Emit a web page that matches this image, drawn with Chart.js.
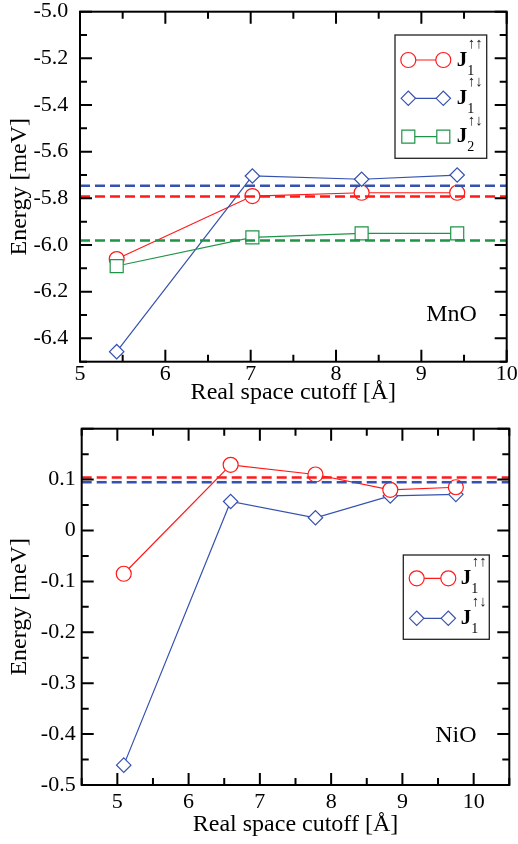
<!DOCTYPE html>
<html>
<head>
<meta charset="utf-8">
<script src="https://cdn.jsdelivr.net/npm/chart.js@4.4.1/dist/chart.umd.min.js"></script>
<style>
  body { margin: 0; background: #fff; }
  canvas { display: block; }
</style>
</head>
<body>
<canvas id="mno" width="518" height="420"></canvas>
<canvas id="nio" width="518" height="424"></canvas>
<script>
// MnO panel
const mnoCutoff = [5.43, 7.02, 8.30, 9.42];
const mnoJ1up = [-6.06, -5.79, -5.776, -5.776];     // J1 up-up
const mnoJ1ud = [-6.457, -5.704, -5.718, -5.70];    // J1 up-down
const mnoJ2ud = [-6.09, -5.967, -5.95, -5.95];      // J2 up-down
const mnoRef = [-5.792, -5.746, -5.981];            // dashed: red, blue, green
const mnoXRange = [5, 10];
const mnoYRange = [-6.5, -5.0];

// NiO panel
const nioCutoff = [5.09, 6.59, 7.78, 8.83, 9.75];
const nioJ1up = [-0.085, 0.129, 0.11, 0.080, 0.085];
const nioJ1ud = [-0.461, 0.057, 0.025, 0.068, 0.071];
const nioRef = [0.104, 0.095];                      // dashed: red, blue
const nioXRange = [4.5, 10.5];
const nioYRange = [-0.5, 0.2];

const RED = '#ff1a1a', BLUE = '#3552b0', GREEN = '#1f9447';
const SERIF = "'Liberation Serif', 'Times New Roman', serif";

Chart.defaults.font.family = SERIF;
Chart.defaults.color = '#000';

function pts(xs, ys) { return xs.map((x, i) => ({x: x, y: ys[i]})); }

function series(xs, ys, color, style, r) {
  return {
    data: pts(xs, ys), borderColor: color, borderWidth: 1.2,
    pointStyle: style, pointRadius: r, pointBorderColor: color,
    pointBackgroundColor: '#fff', pointBorderWidth: 1.2, tension: 0
  };
}

function refLine(range, v, color) {
  return {
    data: pts(range, [v, v]), borderColor: color, borderWidth: 2.5,
    borderDash: [10, 5], pointRadius: 0, tension: 0
  };
}

function isMajor(v, step) {
  const k = v / step;
  return Math.abs(k - Math.round(k)) < 1e-6;
}

// inward ticks on all four sides + frame
const frameTicks = {
  id: 'frameTicks',
  afterDatasetsDraw(chart, args, o) {
    const {ctx, chartArea: a, scales: {x, y}} = chart;
    ctx.save();
    ctx.strokeStyle = '#000';
    ctx.lineWidth = 2;
    ctx.beginPath();
    x.ticks.forEach(t => {
      const px = x.getPixelForValue(t.value);
      const len = isMajor(t.value, o.xMajor) ? 12 : 7;
      ctx.moveTo(px, a.bottom); ctx.lineTo(px, a.bottom - len);
      ctx.moveTo(px, a.top); ctx.lineTo(px, a.top + len);
    });
    y.ticks.forEach(t => {
      const py = y.getPixelForValue(t.value);
      const len = isMajor(t.value, o.yMajor) ? 12 : 7;
      ctx.moveTo(a.left, py); ctx.lineTo(a.left + len, py);
      ctx.moveTo(a.right, py); ctx.lineTo(a.right - len, py);
    });
    ctx.stroke();
    ctx.strokeRect(a.left, a.top, a.right - a.left, a.bottom - a.top);
    ctx.restore();
  }
};

function drawMarker(ctx, style, x, y, r) {
  ctx.beginPath();
  if (style === 'circle') {
    ctx.arc(x, y, r, 0, Math.PI * 2);
  } else if (style === 'rectRot') {
    ctx.moveTo(x - r, y); ctx.lineTo(x, y - r); ctx.lineTo(x + r, y); ctx.lineTo(x, y + r);
    ctx.closePath();
  } else {
    const h = r * Math.SQRT1_2;
    ctx.rect(x - h, y - h, 2 * h, 2 * h);
  }
  ctx.fill();
  ctx.stroke();
}

// xmgrace-like legend box and panel label
const legendBox = {
  id: 'legendBox',
  afterDraw(chart, args, o) {
    const ctx = chart.ctx;
    ctx.save();
    ctx.strokeStyle = '#222';
    ctx.lineWidth = 1.3;
    const [x0, y0, x1, y1] = o.box;
    ctx.strokeRect(x0, y0, x1 - x0, y1 - y0);
    o.items.forEach(it => {
      ctx.strokeStyle = it.color;
      ctx.lineWidth = 1.2;
      ctx.beginPath();
      ctx.moveTo(o.m1, it.y); ctx.lineTo(o.m2, it.y);
      ctx.stroke();
      ctx.fillStyle = '#fff';
      drawMarker(ctx, it.style, o.m1, it.y, it.r);
      drawMarker(ctx, it.style, o.m2, it.y, it.r);
      ctx.fillStyle = '#000';
      ctx.textAlign = 'left';
      ctx.textBaseline = 'alphabetic';
      ctx.font = 'bold 21px ' + SERIF;
      ctx.fillText('J', o.tx, it.y + 5.5);
      ctx.font = '14px ' + SERIF;
      ctx.fillText(it.sub, o.tx + 10.5, it.y + 14.5);
      ctx.fillStyle = '#222';
      ctx.font = '15px ' + SERIF;
      ctx.fillText(it.sup, o.tx + 11, it.y - 12);
    });
    ctx.fillStyle = '#000';
    ctx.font = '24px ' + SERIF;
    ctx.textAlign = 'center';
    ctx.textBaseline = 'middle';
    ctx.fillText(o.label, o.lx, o.ly);
    ctx.restore();
  }
};

function makeChart(id, c) {
  return new Chart(document.getElementById(id), {
    type: 'line',
    data: {datasets: c.datasets},
    plugins: [frameTicks, legendBox],
    options: {
      responsive: false,
      animation: false,
      events: [],
      layout: {padding: c.pad},
      plugins: {
        legend: {display: false},
        tooltip: {enabled: false},
        frameTicks: {xMajor: 1, yMajor: c.yMajor},
        legendBox: c.legend
      },
      scales: {
        x: {
          type: 'linear', min: c.xRange[0], max: c.xRange[1],
          afterFit: s => { s.height = c.xH; s.paddingLeft = s.paddingRight = 0; },
          grid: {display: false, drawTicks: false}, border: {display: false},
          ticks: {
            stepSize: 0.5, autoSkip: false, maxRotation: 0, padding: c.xPad,
            font: {size: 22}, color: '#000',
            callback: v => isMajor(v, 1) ? String(Math.round(v)) : ''
          },
          title: {display: true, text: 'Real space cutoff [Å]', font: {size: 24}, color: '#000',
                  padding: {top: 0, bottom: c.xTitlePad}}
        },
        y: {
          type: 'linear', min: c.yRange[0], max: c.yRange[1],
          afterFit: s => { s.width = c.yW; s.paddingTop = s.paddingBottom = 0; },
          grid: {display: false, drawTicks: false}, border: {display: false},
          ticks: {
            stepSize: c.yStep, autoSkip: false, padding: c.yPad,
            font: {size: 22}, color: '#000',
            callback: c.yLabel
          },
          title: {display: true, text: 'Energy [meV]', font: {size: 24}, color: '#000',
                  padding: {top: 5.6, bottom: 0}}
        }
      }
    }
  });
}

makeChart('mno', {
  datasets: [
    refLine(mnoXRange, mnoRef[0], RED),
    refLine(mnoXRange, mnoRef[1], BLUE),
    refLine(mnoXRange, mnoRef[2], GREEN),
    series(mnoCutoff, mnoJ2ud, GREEN, 'rect', 9.2),
    series(mnoCutoff, mnoJ1ud, BLUE, 'rectRot', 7.2),
    series(mnoCutoff, mnoJ1up, RED, 'circle', 7.5)
  ],
  pad: {top: 11.7, right: 11.3, left: 0, bottom: 0},
  xRange: mnoXRange, yRange: mnoYRange, yStep: 0.1, yMajor: 0.2,
  xH: 58.3, yW: 80, xPad: -1, yPad: 11.7, xTitlePad: 12.6,
  yLabel: v => isMajor(v, 0.2) ? v.toFixed(1) : '',
  legend: {
    box: [395, 35, 486.7, 158.3], m1: 408.3, m2: 443.3, tx: 456.7,
    items: [
      {y: 60, color: RED, style: 'circle', r: 7.5, sub: '1', sup: '↑↑'},
      {y: 98.3, color: BLUE, style: 'rectRot', r: 7.2, sub: '1', sup: '↑↓'},
      {y: 136.7, color: GREEN, style: 'rect', r: 9.2, sub: '2', sup: '↑↓'}
    ],
    label: 'MnO', lx: 451.5, ly: 315
  }
});

makeChart('nio', {
  datasets: [
    refLine(nioXRange, nioRef[0], RED),
    refLine(nioXRange, nioRef[1], BLUE),
    series(nioCutoff, nioJ1up, RED, 'circle', 7.5),
    series(nioCutoff, nioJ1ud, BLUE, 'rectRot', 7.2)
  ],
  pad: {top: 6.7, right: 1.3, left: 0, bottom: 0},
  xRange: nioXRange, yRange: nioYRange, yStep: 0.05, yMajor: 0.1,
  xH: 59, yW: 81.7, xPad: 4.5, yPad: 6, xTitlePad: 4.6,
  yLabel: v => {
    if (!isMajor(v, 0.1) || v > 0.15) return '';
    return Math.abs(v) < 1e-9 ? '0' : v.toFixed(1);
  },
  legend: {
    box: [403.3, 135, 489.3, 219.3], m1: 416.7, m2: 448.3, tx: 460.7,
    items: [
      {y: 158.3, color: RED, style: 'circle', r: 7.5, sub: '1', sup: '↑↑'},
      {y: 198.3, color: BLUE, style: 'rectRot', r: 7.2, sub: '1', sup: '↑↓'}
    ],
    label: 'NiO', lx: 455.8, ly: 316
  }
});
</script>
</body>
</html>
